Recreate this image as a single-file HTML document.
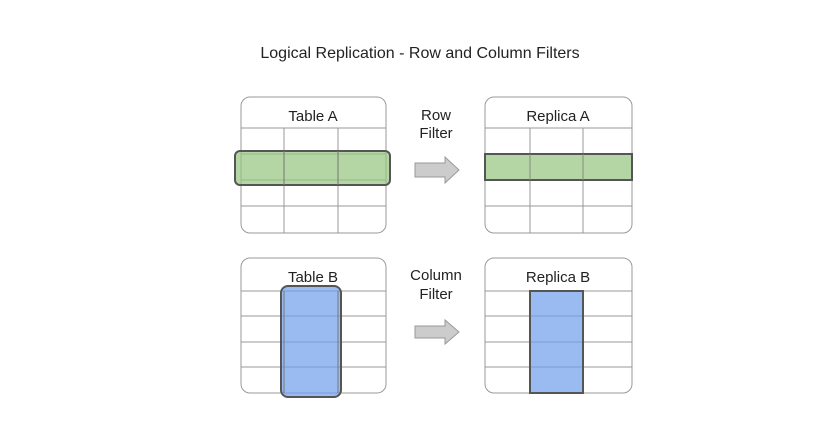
<!DOCTYPE html>
<html><head><style>body{margin:0;background:#fff}</style></head><body>
<svg width="818" height="442" viewBox="0 0 818 442" font-family="Liberation Sans, sans-serif">
<rect width="818" height="442" fill="#fff"/>
<text x="420" y="58" font-size="16" text-anchor="middle" fill="#222">Logical Replication - Row and Column Filters</text>
<g fill="none" stroke="#999" stroke-width="1">
<rect x="241" y="97" width="145" height="136" rx="9"/>
<path d="M241 128H386M241 154H386M241 180H386M241 206H386M284 128V233M338 128V233"/>
<rect x="485" y="97" width="147" height="136" rx="9"/>
<path d="M485 128H632M485 154H632M485 180H632M485 206H632M530 128V233M583 128V233"/>
<rect x="241" y="258" width="145" height="135" rx="9"/>
<path d="M241 291H386M241 316H386M241 342H386M241 367H386"/>
<rect x="485" y="258" width="147" height="135" rx="9"/>
<path d="M485 291H632M485 316H632M485 342H632M485 367H632"/>
</g>
<rect x="235" y="151" width="155" height="34" rx="5" fill="#93c47d" fill-opacity="0.7" stroke="#555" stroke-width="2"/>
<path d="M284 151V185M338 151V185" stroke="#777" stroke-width="1"/>
<rect x="485" y="154" width="147" height="26" fill="#93c47d" fill-opacity="0.7" stroke="#555" stroke-width="2"/>
<path d="M530 154V180M583 154V180" stroke="#888" stroke-width="1"/>
<rect x="281" y="286" width="60" height="111" rx="7" fill="#6d9eeb" fill-opacity="0.7" stroke="#555" stroke-width="2"/>
<path d="M284 291V393M338 291V393" stroke="#777" stroke-width="1"/>
<rect x="530" y="291" width="53" height="102" fill="#6d9eeb" fill-opacity="0.7" stroke="#555" stroke-width="2"/>
<path d="M415 163H445V157L459 170L445 183V177H415Z" fill="#ccc" stroke="#999"/>
<path d="M415 326H445V320L459 332L445 344V338H415Z" fill="#ccc" stroke="#999"/>
<g font-size="15" text-anchor="middle" fill="#222">
<text x="313" y="121">Table A</text>
<text x="558" y="121">Replica A</text>
<text x="313" y="282">Table B</text>
<text x="558" y="282">Replica B</text>
<text x="436" y="120">Row</text>
<text x="436" y="138">Filter</text>
<text x="436" y="280">Column</text>
<text x="436" y="299">Filter</text>
</g>
</svg>
</body></html>
